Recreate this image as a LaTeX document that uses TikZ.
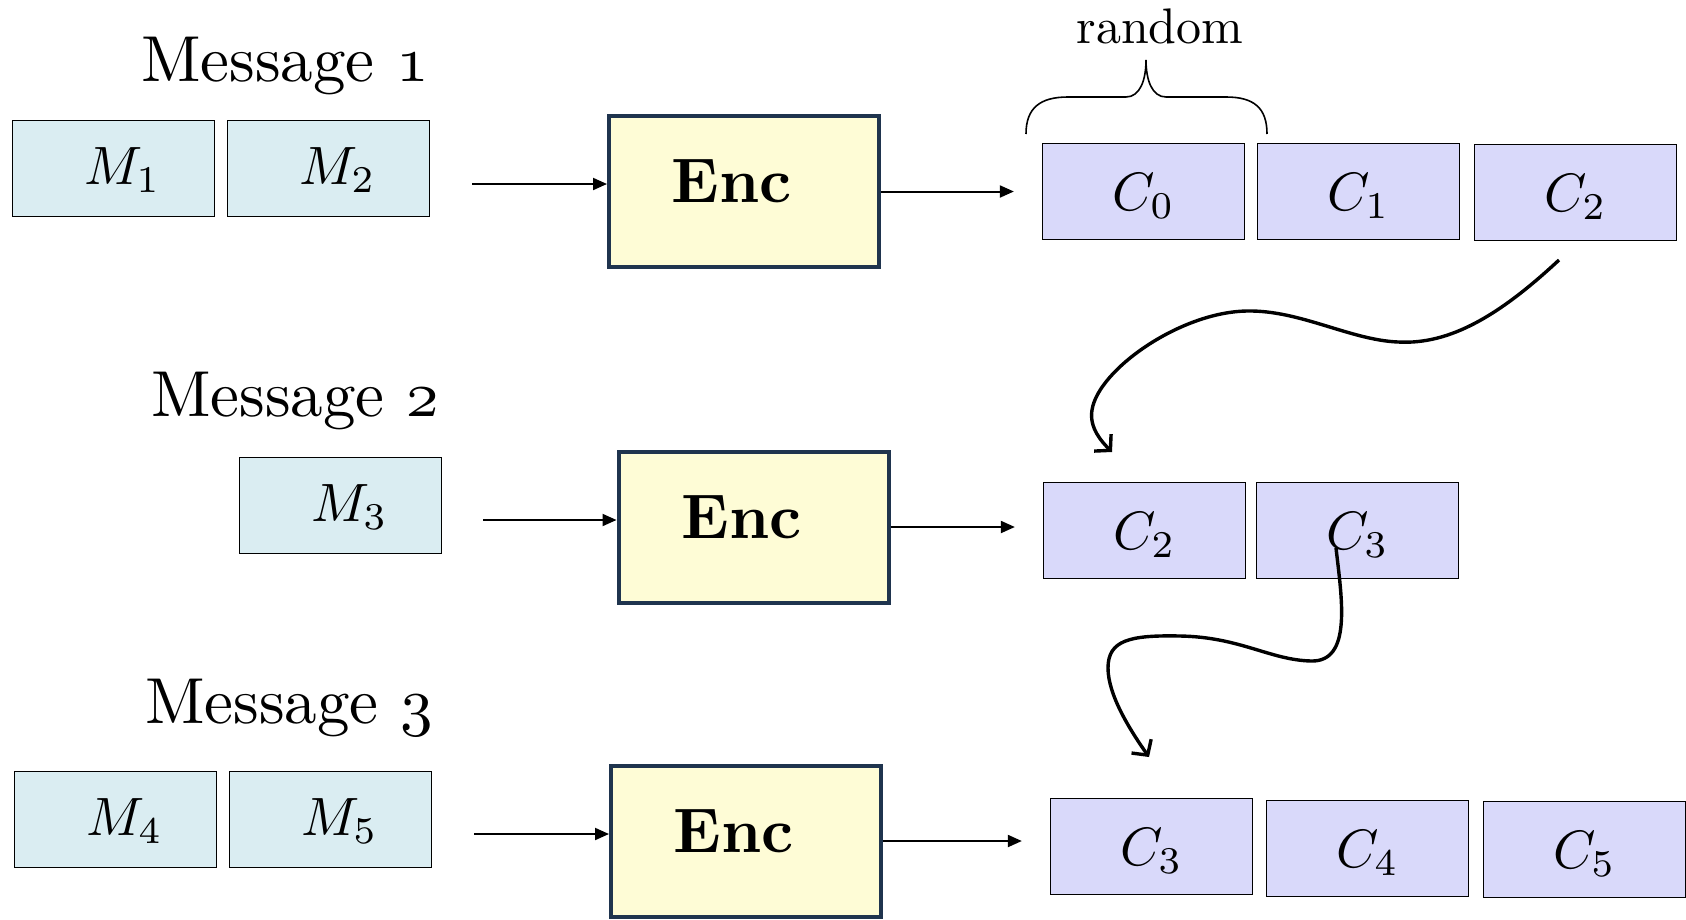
\RequirePackage{fix-cm}
\documentclass[tikz,border=0pt]{standalone}
\usetikzlibrary{arrows.meta,calc}
\definecolor{mfill}{HTML}{DAEDF2}
\definecolor{cfill}{HTML}{D9D9FA}
\definecolor{efill}{HTML}{FEFCD6}
\definecolor{edraw}{HTML}{1F344E}
\newcommand{\osnum}[1]{\ensuremath{\mathnormal{#1}}}
\newcommand{\mtxt}[1]{\hspace*{18pt}\scalebox{5.4}{$#1$}}
\newcommand{\ctxt}[1]{\scalebox{5.4}{$#1$}}
\newcommand{\msgtxt}[1]{\scalebox{6.5}{Message \osnum{#1}}}
\begin{document}
\begin{tikzpicture}[x=1pt,y=-1pt,
  basebox/.style={draw=black,line width=1.3pt,minimum width=202pt,minimum height=96pt,inner sep=0pt},
  mbox/.style={basebox,fill=mfill,text height=33pt,text depth=2pt},
  cbox/.style={basebox,fill=cfill,text height=40pt,text depth=2pt},
  encbox/.style={draw=edraw,line width=4pt,fill=efill,minimum width=270pt,minimum height=151pt,inner sep=0pt},
  enctext/.style={inner sep=0pt},
  msg/.style={anchor=base west,inner sep=0pt},
  arr/.style={line width=2pt,-{Triangle[length=14pt,width=12pt]}},
  wave/.style={line width=3.4pt,-{Straight Barb[length=11pt,width=24pt,line width=3.4pt]}},
  bracestyle/.style={line width=1.6pt}
]
\useasboundingbox (0,0) rectangle (1686,919);

% Row 1
\node[msg] (msg1) at (141,81) {\msgtxt{1}};
\node[mbox] (m1) at (113.5,168.5) {\mtxt{M_1}};
\node[mbox] (m2) at (328.5,168.5) {\mtxt{M_2}};
\node[encbox] (e1) at (744,191.5) {};
\node[enctext] (t1) at ($(e1.center)+(-12,-10)$) {\scalebox{6.3}{\bfseries Enc}};
\node[cbox] (c0) at (1143.5,191.5) {\ctxt{C_0}};
\node[cbox] (c1) at (1358.5,191.5) {\ctxt{C_1}};
\node[cbox] (c2) at (1575.5,192.5) {\ctxt{C_2}};
\coordinate (a1) at (472,184);
\draw[arr] (a1) -- (a1 -| e1.west);
\draw[arr,shorten >=28pt] (e1.east) -- (e1.east -| c0.west);
\node[anchor=base,inner sep=0pt] (rnd) at (1160,43) {\scalebox{5}{random}};
\draw[bracestyle] (1026,134) .. controls (1026,108) and (1040,97) .. (1068,97) -- (1126,97)
  .. controls (1140,97) and (1146,80) .. (1146,60)
  .. controls (1146,80) and (1152,97) .. (1166,97) -- (1226,97)
  .. controls (1254,97) and (1267,108) .. (1267,134);

% Row 2
\node[msg] (msg2) at (151,416) {\msgtxt{2}};
\node[mbox] (m3) at (340.5,505.5) {\mtxt{M_3}};
\node[encbox] (e2) at (753.5,527) {};
\node[enctext] (t2) at ($(e2.center)+(-12,-10)$) {\scalebox{6.3}{\bfseries Enc}};
\node[cbox] (c2b) at (1144.5,530.5) {\ctxt{C_2}};
\node[cbox] (c3) at (1357.5,530.5) {\ctxt{C_3}};
\coordinate (a2) at (483,520);
\draw[arr] (a2) -- (a2 -| e2.west);
\draw[arr,shorten >=28pt] (e2.east) -- (e2.east -| c2b.west);

% Row 3
\node[msg] (msg3) at (145,723) {\msgtxt{3}};
\node[mbox] (m4) at (115.5,819.5) {\mtxt{M_4}};
\node[mbox] (m5) at (330.5,819.5) {\mtxt{M_5}};
\node[encbox] (e3) at (746,841) {};
\node[enctext] (t3) at ($(e3.center)+(-12,-10)$) {\scalebox{6.3}{\bfseries Enc}};
\node[cbox] (c3b) at (1151.5,846.5) {\ctxt{C_3}};
\node[cbox] (c4) at (1367.5,848.5) {\ctxt{C_4}};
\node[cbox] (c5) at (1584.5,849.5) {\ctxt{C_5}};
\coordinate (a3) at (474,834);
\draw[arr] (a3) -- (a3 -| e3.west);
\draw[arr,shorten >=28pt] (e3.east) -- (e3.east -| c3b.west);

% wavy arrows
\coordinate (w1s) at (1559,260);
\coordinate (w1e) at (1112,452);
\draw[wave] (w1s) .. controls (1500,315) and (1450,345) .. (1398,342)
  .. controls (1350,340) and (1300,310) .. (1247,311)
  .. controls (1180,312) and (1098,370) .. (1092,410)
  .. controls (1089,428) and (1102,442) .. (w1e);
\coordinate (w2s) at (1336,548);
\coordinate (w2e) at (1149,757);
\draw[wave] (w2s) .. controls (1342,600) and (1352,662) .. (1311,661)
  .. controls (1270,660) and (1240,637) .. (1180,636)
  .. controls (1130,635) and (1108,640) .. (1108,668)
  .. controls (1108,695) and (1130,730) .. (w2e);
\end{tikzpicture}
\end{document}
